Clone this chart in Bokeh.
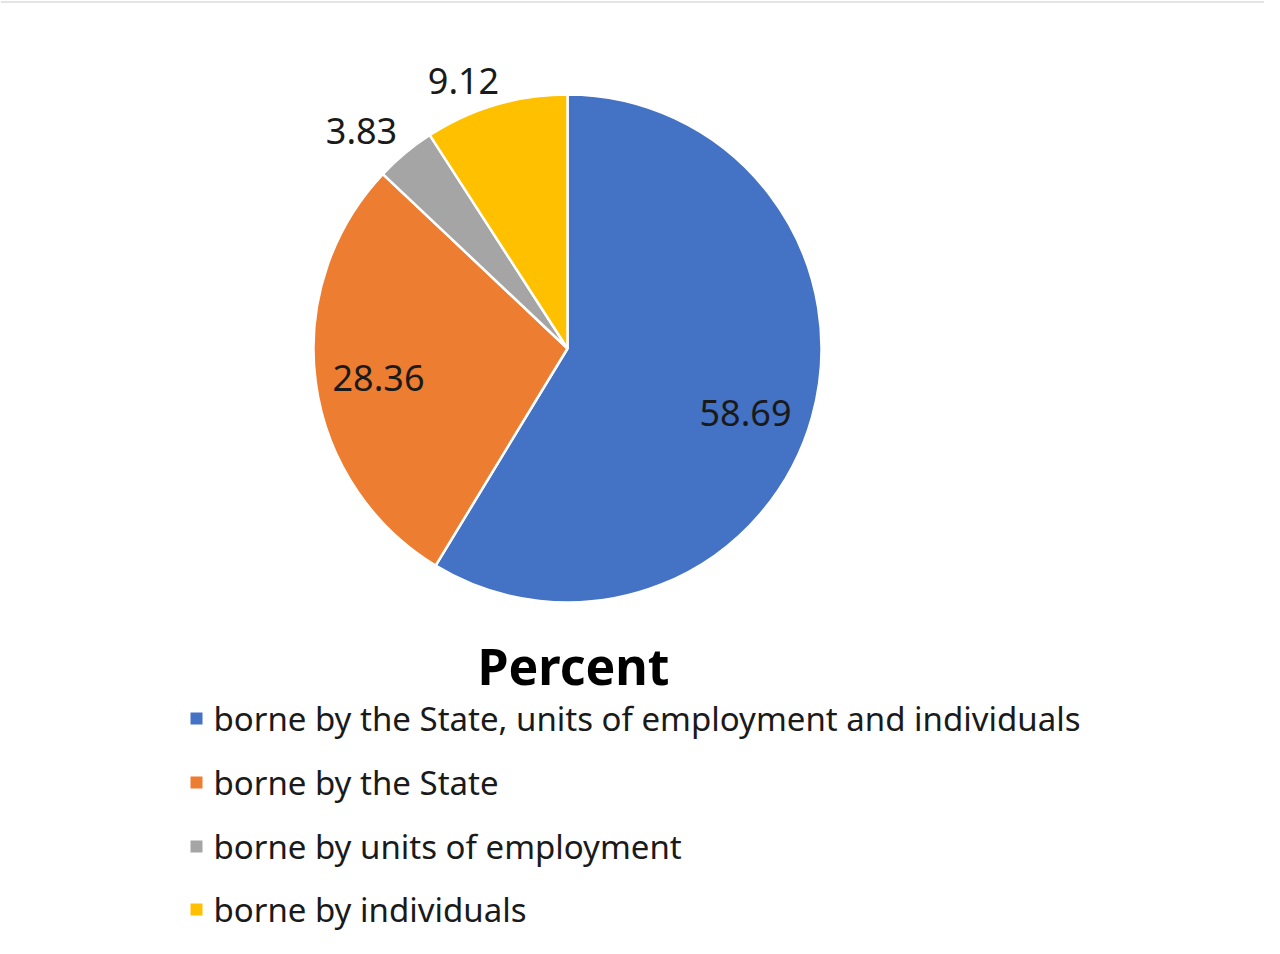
import math
from bokeh.plotting import figure
from bokeh.models import ColumnDataSource, Range1d
from bokeh.core.properties import value
from bokeh.embed import file_html
from bokeh.resources import INLINE

categories = [
    "borne by the State, units of employment and individuals",
    "borne by the State",
    "borne by units of employment",
    "borne by individuals",
]
values = [58.69, 28.36, 3.83, 9.12]
labels = ["58.69", "28.36", "3.83", "9.12"]
colors = ["#4472C4", "#ED7D31", "#A5A5A5", "#FFC000"]
title_text = "Percent"

W, H = 1264, 938
p = figure(width=W, height=H, output_backend="svg", toolbar_location=None,
           x_range=Range1d(0, W), y_range=Range1d(0, H), min_border=0)
p.axis.visible = False
p.grid.visible = False
p.outline_line_color = None
p.background_fill_color = "white"
p.border_fill_color = "white"

# faint frame line at top
p.line(x=[0, W], y=[H - 1.5, H - 1.5], line_color="#dddddd", line_width=1.5)

cx, cy, r = 567, 590, 254
total = sum(values)
starts, ends = [], []
a = math.pi / 2
for v in values:
    starts.append(a)
    a -= v / total * 2 * math.pi
    ends.append(a)

src = ColumnDataSource(dict(start=starts, end=ends, color=colors))
p.wedge(x=cx, y=cy, radius=r, radius_units="screen", start_angle="start", end_angle="end",
        direction="clock", fill_color="color", line_color="white", line_width=2.5, source=src)

# data labels
lx = [745, 378, 361, 463]
ly = [526, 561, 808, 858]
p.text(x=lx, y=ly, text=labels, text_font=value("Noto Sans"), text_font_size="36px",
       text_color="#1a1a1a", text_align="center", text_baseline="middle")

# title
p.text(x=[573], y=[273], text=[title_text], text_font=value("Noto Sans"), text_font_size="50px",
       text_font_style="bold", text_color="black", text_align="center", text_baseline="middle")

# legend
leg_y = [220, 156, 92, 29]
p.rect(x=[196] * 4, y=leg_y, width=12, height=12, width_units="screen", height_units="screen",
       fill_color=colors, line_color=None)
p.text(x=[213] * 4, y=leg_y, text=categories, text_font=value("Noto Sans"), text_font_size="33px",
       text_color="#1a1a1a", text_align="left", text_baseline="middle")

open("out.html", "w").write(file_html(p, INLINE))
